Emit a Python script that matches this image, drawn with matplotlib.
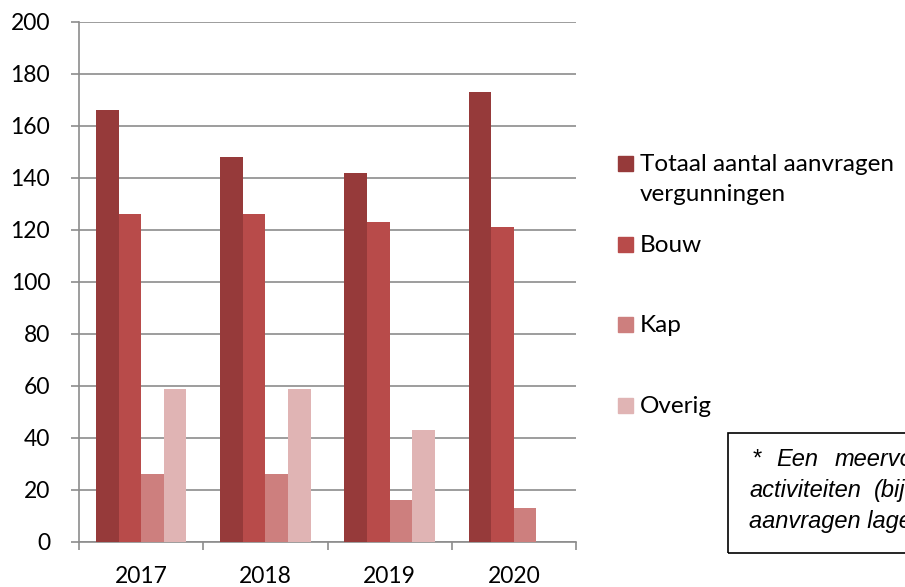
import matplotlib.pyplot as plt
from matplotlib.patches import Rectangle
import numpy as np

years = ['2017', '2018', '2019', '2020']
totaal = [166, 148, 142, 173]
bouw = [126, 126, 123, 121]
kap = [26, 26, 16, 13]
overig = [59, 59, 43, 0]

series = [totaal, bouw, kap, overig]
labels = ['Totaal aantal aanvragen\nvergunningen', 'Bouw', 'Kap', 'Overig']
colors = ['#963A3A', '#B84B4A', '#CD7F7E', '#E0B4B4']

plt.rcParams['font.family'] = ['Lato', 'DejaVu Sans']

W, H = 905, 587
fig = plt.figure(figsize=(W / 100, H / 100), dpi=100)
ax = fig.add_axes([79 / W, 1 - 542 / H, (576 - 79) / W, (542 - 22) / H])

x = np.arange(len(years))
bw = 0.182
for i, vals in enumerate(series):
    ax.bar(x + (i - 1.5) * bw, vals, bw, color=colors[i], zorder=3)

grey = '#8C8C8C'
ax.set_xlim(-0.5, len(years) - 0.5)
ax.set_ylim(0, 200)
ax.set_yticks(range(0, 201, 20))
ax.yaxis.grid(True, color=grey, lw=1.2, zorder=0)
ax.set_xticks(x)
ax.set_xticklabels(years)
ax.set_xticks(np.arange(-0.5, len(years), 1), minor=True)
ax.tick_params(axis='x', which='major', length=0, pad=17, labelsize=16.5)
ax.tick_params(axis='x', which='minor', length=5.8, width=1.2, color=grey)
ax.tick_params(axis='y', length=5.8, width=1.2, color=grey, pad=15, labelsize=16.5)
for s in ['top', 'right']:
    ax.spines[s].set_visible(False)
for s in ['left', 'bottom']:
    ax.spines[s].set_color(grey)
    ax.spines[s].set_linewidth(1.2)

# legend, drawn by hand to match the spacing of the original
sq_bottom = [171, 252, 332, 413]
for lab, col, yb in zip(labels, colors, sq_bottom):
    fig.add_artist(Rectangle((618 / W, 1 - yb / H), 15 / W, 15 / H,
                             transform=fig.transFigure, color=col))
    for k, line in enumerate(lab.split('\n')):
        fig.text(640 / W, 1 - (yb + 30 * k) / H, line, fontsize=17.5,
                 va='baseline', ha='left')

# note box (cut off at right edge, as in the original)
fig.add_artist(Rectangle((728 / W, 1 - 553 / H), 500 / W, 120 / H,
                         transform=fig.transFigure, fill=False, ec='black', lw=1.2))
note = [
    (466, [('*', 752), ('Een', 776), ('meervoudige', 835)]),
    (497, [('activiteiten', 749), ('(bijv.', 874)]),
    (528, [('aanvragen lager dan het totaal', 749)]),
]
for yy, words in note:
    for w, xx in words:
        fig.text(xx / W, 1 - yy / H, w, fontsize=17, style='italic',
                 family='Liberation Sans', va='baseline', ha='left')

fig.savefig('out.png', dpi=100)
